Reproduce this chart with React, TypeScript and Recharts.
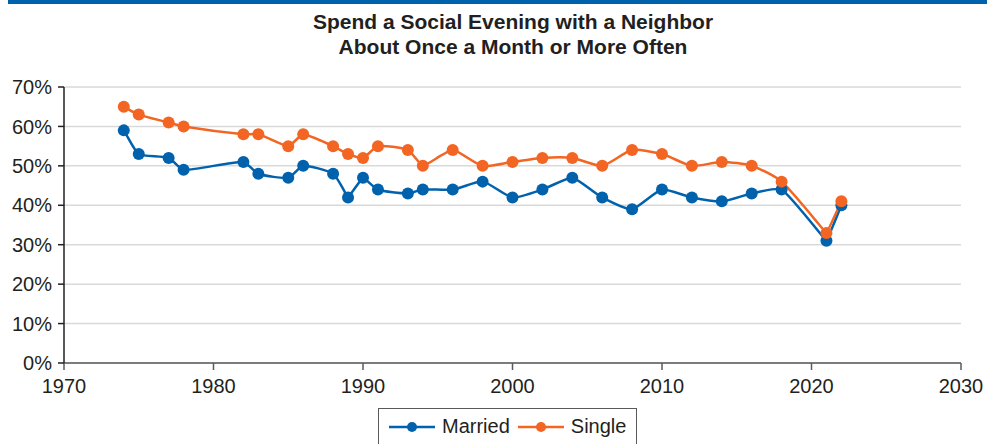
import { LineChart, Line, XAxis, YAxis, CartesianGrid } from 'recharts';

const years = [
  1974, 1975, 1977, 1978, 1982, 1983, 1985, 1986, 1988, 1989, 1990, 1991, 1993, 1994,
  1996, 1998, 2000, 2002, 2004, 2006, 2008, 2010, 2012, 2014, 2016, 2018, 2021, 2022,
];
const married = [
  59, 53, 52, 49, 51, 48, 47, 50, 48, 42, 47, 44, 43, 44,
  44, 46, 42, 44, 47, 42, 39, 44, 42, 41, 43, 44, 31, 40,
];
const single = [
  65, 63, 61, 60, 58, 58, 55, 58, 55, 53, 52, 55, 54, 50,
  54, 50, 51, 52, 52, 50, 54, 53, 50, 51, 50, 46, 33, 41,
];
const xTicks = [1970, 1980, 1990, 2000, 2010, 2020, 2030];
const yTicks = [0, 10, 20, 30, 40, 50, 60, 70];
const titleLines = ['Spend a Social Evening with a Neighbor', 'About Once a Month or More Often'];

const BLUE = '#0061ad';
const ORANGE = '#f26522';
const INK = '#231f20';
const FONT = '"Liberation Sans", Arial, Helvetica, sans-serif';

const rows = years.map((year, i) => ({ year, married: married[i], single: single[i] }));

// Light spline: tangent at each point follows its neighbours, scaled by the
// segment's own length; sharp turns get less smoothing so they stay pointed.
type Pt = [number, number];
const SMOOTH = 0.25;

function softCurve(context: any) {
  let pts: Pt[] = [];
  const unit = (a: Pt, b: Pt): Pt => {
    const dx = b[0] - a[0];
    const dy = b[1] - a[1];
    const len = Math.hypot(dx, dy) || 1;
    return [dx / len, dy / len];
  };
  const bend = (i: number) => {
    const prev = pts[i - 1];
    const next = pts[i + 1];
    if (!prev || !next) return 1;
    const a = unit(prev, pts[i]);
    const b = unit(pts[i], next);
    const c = (1 + a[0] * b[0] + a[1] * b[1]) / 2;
    return c * c;
  };
  return {
    areaStart() {},
    areaEnd() {},
    lineStart() {
      pts = [];
    },
    point(x: number, y: number) {
      pts.push([+x, +y]);
    },
    lineEnd() {
      if (!pts.length) return;
      context.moveTo(pts[0][0], pts[0][1]);
      for (let i = 0; i < pts.length - 1; i++) {
        const p0 = pts[i - 1] ?? pts[i];
        const p1 = pts[i];
        const p2 = pts[i + 1];
        const p3 = pts[i + 2] ?? p2;
        const d = Math.hypot(p2[0] - p1[0], p2[1] - p1[1]) * SMOOTH;
        const d1 = d * bend(i);
        const d2 = d * bend(i + 1);
        const t1 = unit(p0, p2);
        const t2 = unit(p1, p3);
        context.bezierCurveTo(
          p1[0] + t1[0] * d1,
          p1[1] + t1[1] * d1,
          p2[0] - t2[0] * d2,
          p2[1] - t2[1] * d2,
          p2[0],
          p2[1],
        );
      }
    },
  };
}

function LegendItem({ color, label }: { color: string; label: string }) {
  return (
    <span style={{ display: 'inline-flex', alignItems: 'center', marginRight: 8 }}>
      <svg width={46} height={12} style={{ marginRight: 7 }}>
        <line x1={0} y1={6} x2={46} y2={6} stroke={color} strokeWidth={2.5} />
        <circle cx={23} cy={6} r={5} fill={color} />
      </svg>
      <span>{label}</span>
    </span>
  );
}

export default function App() {
  return (
    <div
      style={{
        position: 'absolute',
        left: 0,
        top: 0,
        width: 987,
        height: 444,
        overflow: 'hidden',
        background: '#fff',
        fontFamily: FONT,
        color: INK,
      }}
    >
      <div style={{ position: 'absolute', left: 8, top: 0, width: 979, height: 4, background: BLUE }} />

      <div
        style={{
          position: 'absolute',
          left: 0,
          top: 9,
          width: 1026,
          textAlign: 'center',
          fontWeight: 700,
          fontSize: 21,
          lineHeight: '25px',
        }}
      >
        {titleLines.map((t) => (
          <div key={t}>{t}</div>
        ))}
      </div>

      <LineChart
        width={987}
        height={444}
        data={rows}
        margin={{ top: 87, right: 26, left: 4, bottom: 41 }}
        style={{ position: 'absolute', left: 0, top: 0 }}
      >
        <CartesianGrid vertical={false} stroke="#d9d9d9" strokeWidth={1.5} />
        <XAxis
          dataKey="year"
          type="number"
          domain={[1970, 2030]}
          ticks={xTicks}
          height={40}
          tickSize={7}
          tickMargin={9}
          stroke="#5a5a5a"
          strokeWidth={1.5}
          tick={{ fill: INK, fontSize: 20, fontFamily: FONT }}
        />
        <YAxis
          type="number"
          domain={[0, 70]}
          ticks={yTicks}
          width={60}
          tickSize={6}
          tickMargin={6}
          stroke={INK}
          strokeWidth={1.5}
          tickFormatter={(v: number) => `${v}%`}
          tick={{ fill: INK, fontSize: 20, fontFamily: FONT }}
        />
        <Line
          type={softCurve as any}
          dataKey="married"
          stroke={BLUE}
          strokeWidth={2.5}
          dot={{ r: 6, fill: BLUE, stroke: 'none' }}
          isAnimationActive={false}
        />
        <Line
          type={softCurve as any}
          dataKey="single"
          stroke={ORANGE}
          strokeWidth={2.5}
          dot={{ r: 6, fill: ORANGE, stroke: 'none' }}
          isAnimationActive={false}
        />
      </LineChart>

      <div
        style={{
          position: 'absolute',
          left: 378,
          top: 408,
          width: 259,
          height: 50,
          border: '1.5px solid #5a5a5a',
          fontSize: 20,
          display: 'flex',
          alignItems: 'flex-start',
          paddingTop: 6,
          paddingLeft: 10,
          boxSizing: 'border-box',
          whiteSpace: 'nowrap',
        }}
      >
        <LegendItem color={BLUE} label="Married" />
        <LegendItem color={ORANGE} label="Single" />
      </div>
    </div>
  );
}
